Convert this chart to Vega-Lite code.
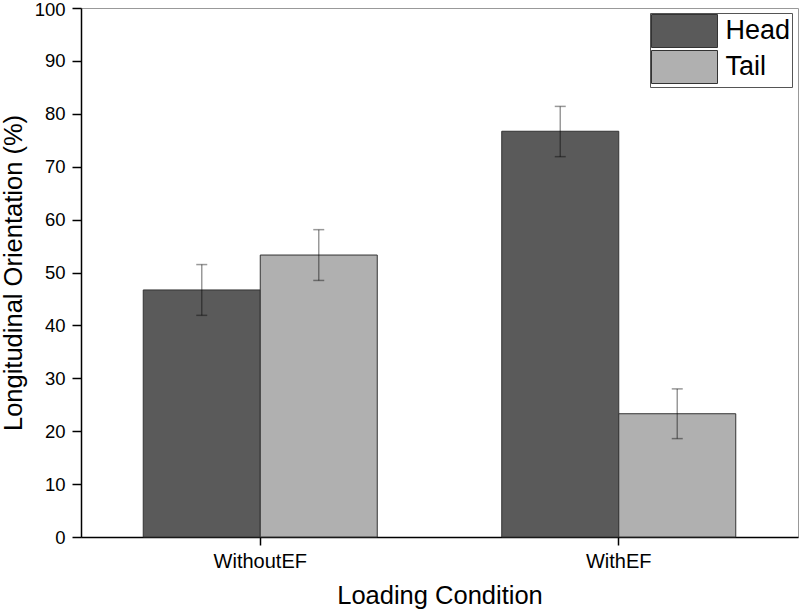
{
  "$schema": "https://vega.github.io/schema/vega-lite/v6.json",
  "width": 717,
  "height": 529,
  "autosize": {"type": "none"},
  "padding": {"left": 81, "top": 8, "right": 2, "bottom": 78},
  "background": "white",
  "config": {
    "view": {"stroke": "#999999", "strokeWidth": 1},
    "font": "Liberation Sans",
    "axis": {"labelFont": "Liberation Sans", "titleFont": "Liberation Sans", "titleFontWeight": "normal", "domainColor": "black", "tickColor": "black", "labelColor": "black", "titleColor": "black", "domainWidth": 1.5, "tickWidth": 1.5}
  },
  "data": {
    "values": [
      {"cond": "WithoutEF", "ori": "Head", "v": 46.7, "lo": 41.9, "hi": 51.5},
      {"cond": "WithoutEF", "ori": "Tail", "v": 53.3, "lo": 48.5, "hi": 58.1},
      {"cond": "WithEF", "ori": "Head", "v": 76.7, "lo": 71.9, "hi": 81.4},
      {"cond": "WithEF", "ori": "Tail", "v": 23.3, "lo": 18.6, "hi": 28.0}
    ]
  },
  "encoding": {
    "x": {
      "field": "cond", "type": "nominal", "sort": ["WithoutEF", "WithEF"],
      "scale": {"paddingInner": 0, "paddingOuter": 0},
      "axis": {"title": "Loading Condition", "titleFontSize": 25.5, "titlePadding": 12, "labelFontSize": 20, "labelAngle": 0, "tickSize": 8, "labelPadding": 6}
    },
    "xOffset": {"field": "ori", "type": "nominal", "sort": ["Head", "Tail"], "scale": {"paddingInner": 0, "paddingOuter": 0.532}}
  },
  "layer": [
    {
      "mark": {"type": "bar", "stroke": "#333333", "strokeWidth": 1},
      "encoding": {
        "y": {
          "field": "v", "type": "quantitative",
          "scale": {"domain": [0, 100], "nice": false},
          "axis": {
            "title": "Longitudinal Orientation (%)", "titleFontSize": 25.5, "titlePadding": 8,
            "values": [0,5,10,15,20,25,30,35,40,45,50,55,60,65,70,75,80,85,90,95,100],
            "labelExpr": "datum.value % 10 === 0 ? datum.label : ''",
            "tickSize": {"expr": "datum.value % 10 === 0 ? 9 : 5"},
            "labelOffset": {"expr": "datum.value === 100 ? 1.5 : 0"},
            "labelFontSize": 18.5, "labelPadding": 7, "grid": false
          }
        },
        "fill": {
          "field": "ori", "type": "nominal",
          "scale": {"domain": ["Head", "Tail"], "range": ["#5a5a5a", "#b0b0b0"]},
          "legend": {
            "title": null, "orient": "none", "legendX": 569, "legendY": 5,
            "symbolType": "M-2,-1H2V1H-2Z", "symbolSize": 1089,
            "symbolStrokeColor": "#333333", "symbolStrokeWidth": 1,
            "labelFontSize": 27, "labelFont": "Liberation Sans", "labelColor": "black",
            "strokeColor": "#555555", "padding": 1, "rowPadding": -2,
            "symbolOffset": 16.5, "labelOffset": 24, "offset": 0
          }
        }
      }
    },
    {
      "mark": {"type": "rule", "color": "black", "opacity": 0.4, "strokeWidth": 1.5},
      "encoding": {"y": {"field": "lo", "type": "quantitative"}, "y2": {"field": "hi"}}
    },
    {
      "mark": {"type": "tick", "color": "black", "opacity": 0.4, "size": 11, "thickness": 1.5},
      "encoding": {"y": {"field": "lo", "type": "quantitative"}}
    },
    {
      "mark": {"type": "tick", "color": "black", "opacity": 0.4, "size": 11, "thickness": 1.5},
      "encoding": {"y": {"field": "hi", "type": "quantitative"}}
    }
  ]
}
